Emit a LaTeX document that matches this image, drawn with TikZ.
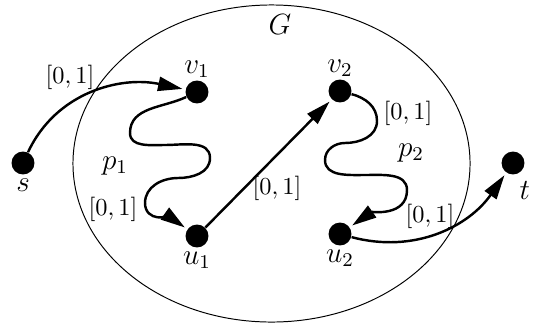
\documentclass[tikz,border=0pt]{standalone}
\usepackage{amsmath,amssymb}
\usetikzlibrary{arrows.meta,positioning,shapes.geometric}

\tikzset{
  vert/.style={circle, fill=black, inner sep=0pt, minimum size=9.4pt},
  flow/.style={-{Triangle[length=10pt,width=5.8pt]}, line width=1pt, shorten >=1.2pt},
  wlabel/.style={inner sep=0pt},
  every label/.style={font=\large},
}

\begin{document}
\begin{tikzpicture}[x=0.41pt, y=-0.41pt]
    \useasboundingbox (0,0) rectangle (534,327);

    % the graph G
    \node [draw, ellipse, minimum width=162.8pt, minimum height=130pt, inner sep=0pt] (graph) at (271.5,163.5) {};
    \node [wlabel, font=\large] (gname) at (280,24) {$G$};

    % vertices
    \node [vert, label={[label distance=-2pt]below:$s$}] (s) at (23,163) {};
    \node [vert, label={[label distance=-2.5pt]above:$v_1$}] (v1) at (197,92) {};
    \node [vert, label={[label distance=-2pt]below:$u_1$}] (u1) at (197,236) {};
    \node [vert, label={[label distance=-2.5pt]above:$v_2$}] (v2) at (340,91) {};
    \node [vert, label={[label distance=-2pt]below:$u_2$}] (u2) at (340,234) {};
    \node [vert, label={[inner sep=1pt, xshift=-2pt, yshift=-3pt]below right:$t$}] (t) at (513,163) {};

    % path names
    \node [wlabel, font=\large] (p1) at (115,166) {$p_1$};
    \node [wlabel, font=\large] (p2) at (411,153) {$p_2$};

    % edges
    \draw [flow] (s) to[out=65, in=168] (v1);
    \draw [flow] (v1) to[out=205, in=90] (130,133) to[out=270, in=180] (165,145)
        to[out=0, in=90] (210,158) to[out=270, in=0] (178,178)
        to[out=180, in=90] (145,203) to[out=270, in=145] (u1);
    \draw [flow] (u1) -- (v2);
    \draw [flow] (v2) to[out=-15, in=90] (377,121) to[out=270, in=0] (345,143)
        to[out=180, in=90] (325,160) to[out=270, in=180] (365,175)
        to[out=0, in=90] (407,190) to[out=270, in=35] (u2);
    \draw [flow] (u2) to[out=-15, in=235] (t);

    % edge weights
    \node [wlabel] (w1) at (70,77) {$[0,1]$};
    \node [wlabel] (w2) at (113,209) {$[0,1]$};
    \node [wlabel] (w3) at (277,188) {$[0,1]$};
    \node [wlabel] (w4) at (408,113) {$[0,1]$};
    \node [wlabel] (w5) at (430,216) {$[0,1]$};
\end{tikzpicture}
\end{document}
